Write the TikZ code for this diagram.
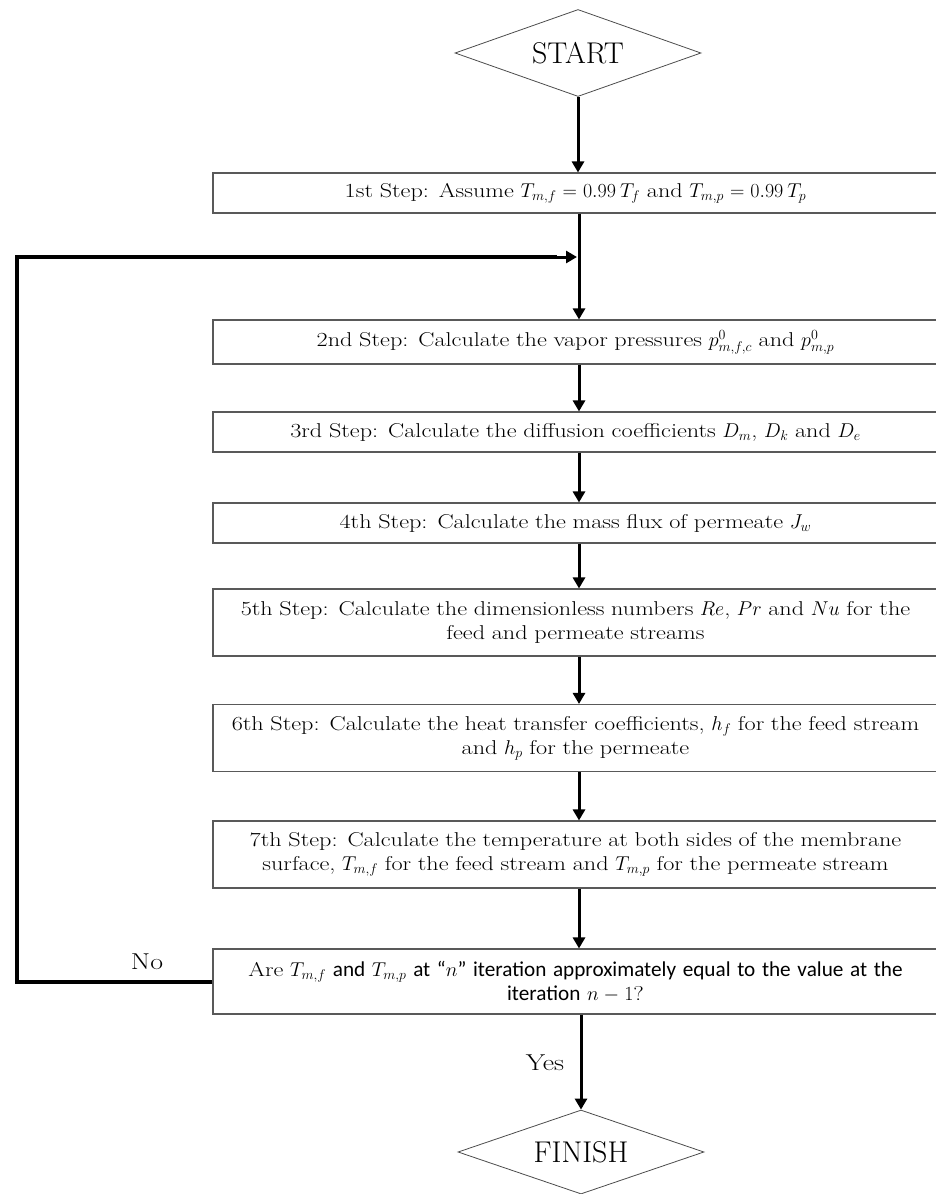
\RequirePackage{fix-cm}
\documentclass[tikz,border=0pt]{standalone}
\usepackage{fontspec}
\setmainfont{Latin Modern Roman}[FakeStretch=1.21]
\newfontfamily\plainlm{Latin Modern Roman}
\newfontfamily\calib{Carlito}[Scale=1.06]
\usetikzlibrary{shapes.geometric,arrows.meta}
\newcommand{\fixmu}{\thickmuskip=5mu\medmuskip=4mu\thinmuskip=3mu}
\newcommand{\eqsp}{\hspace{6pt}{=}\hspace{6pt}}
\tikzset{
  stepbox/.style={draw=black!65,line width=1.1pt,minimum width=725pt,inner sep=1pt,align=center,text width=715pt,font=\fontsize{20}{24}\selectfont\fixmu},
  termbox/.style={draw=black!70,line width=0.8pt,shape=diamond,aspect=2.8,minimum width=246pt,minimum height=87pt,inner sep=0pt,font=\plainlm\fontsize{30}{34}\selectfont},
  flow/.style={line width=3pt,-{Triangle[length=11pt,width=12pt]}},
  loopline/.style={line width=3.5pt},
  lbl/.style={font=\fontsize{23}{26}\selectfont}
}
\begin{document}
\begin{tikzpicture}[x=1pt,y=-1pt]
\path[use as bounding box] (0,0) rectangle (936,1194);
\coordinate (ax) at (579,0);
\node[termbox] (start) at (578,53) {START};
\node[stepbox,minimum height=40pt] (b1) at (575.5,193) {1st Step: Assume $T_{m,f}\eqsp0.99\hspace{4pt}T_f$ and $T_{m,p}\eqsp0.99\hspace{4pt}T_p$};
\node[stepbox,minimum height=44pt] (b2) at (575.5,342) {2nd Step: Calculate the vapor pressures $p^0_{m,f,c}$ and $p^0_{m,p}$};
\node[stepbox,minimum height=40pt] (b3) at (575.5,432) {3rd Step: Calculate the diffusion coefficients $D_m$, $D_k$ and $D_e$};
\node[stepbox,minimum height=40pt] (b4) at (575.5,523) {4th Step: Calculate the mass flux of permeate $J_w$};
\node[stepbox,minimum height=67pt] (b5) at (575.5,622.5) {5th Step: Calculate the dimensionless numbers $Re$, $Pr$ and $Nu$ for the\\ feed and permeate streams};
\node[stepbox,minimum height=67pt] (b6) at (575.5,738) {6th Step: Calculate the heat transfer coefficients, $h_f$ for the feed stream\\ and $h_p$ for the permeate};
\node[stepbox,minimum height=67pt] (b7) at (575.5,854.5) {7th Step: Calculate the temperature at both sides of the membrane\\ surface, $T_{m,f}$ for the feed stream and $T_{m,p}$ for the permeate stream};
\node[stepbox,minimum height=65pt] (b8) at (575.5,981.5) {Are $T_{m,f}$ {\calib and} $T_{m,p}$ {\calib at “$n$” iteration approximately equal to the value at the}\\ {\calib iteration} $n\hspace{5pt}{-}\hspace{5pt}1$?};
\node[termbox,minimum height=84pt] (finish) at (581,1152) {FINISH};
\coordinate (join) at (577,257);
\coordinate (lt) at (17,257);
\coordinate (lb) at (17,982);
\draw[flow] (start.south) -- (b1.north -| start);
\draw[flow] (b1.south -| ax) -- (b2.north -| ax);
\draw[flow] (b2.south -| ax) -- (b3.north -| ax);
\draw[flow] (b3.south -| ax) -- (b4.north -| ax);
\draw[flow] (b4.south -| ax) -- (b5.north -| ax);
\draw[flow] (b5.south -| ax) -- (b6.north -| ax);
\draw[flow] (b6.south -| ax) -- (b7.north -| ax);
\draw[flow] (b7.south -| ax) -- (b8.north -| ax);
\draw[flow] (b8.south -| finish) -- (finish.north);
\draw[loopline] (b8.west |- lb) -- (lb) -- (lt) -- ([xshift=-20pt]join);
\draw[flow] ([xshift=-22pt]join) -- (join);
\node[lbl] (no) at (147,962) {No};
\node[lbl] (yes) at (545,1063) {Yes};
\end{tikzpicture}
\end{document}
